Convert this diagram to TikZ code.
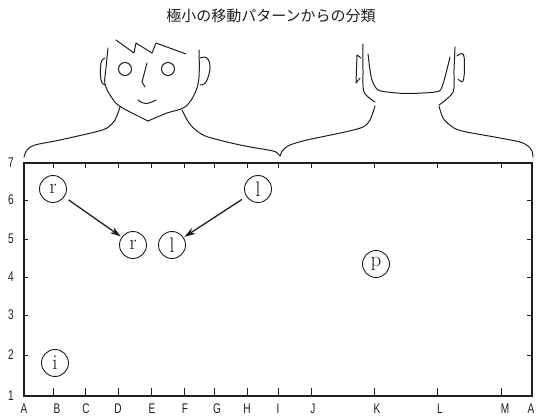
\documentclass[tikz,border=0pt]{standalone}
\usepackage{fontspec}
\newfontfamily\jpfont{Noto Sans CJK JP}
\newfontfamily\axisfont[FakeStretch=0.72]{Liberation Sans}
\usetikzlibrary{arrows.meta}
\definecolor{ink}{HTML}{1E1E1E}

\begin{document}
\begin{tikzpicture}[
  x=1pt, y=-1pt,
  draw=ink, text=ink,
  sketch/.style={line width=1pt, line join=round, line cap=round},
  frame/.style={line width=1.3pt},
  spot/.style={circle, draw=ink, line width=0.9pt, minimum size=27pt,
    inner sep=0pt, font=\fontsize{21}{21}\selectfont},
  ticklabel/.style={font=\axisfont\fontsize{14}{14}\selectfont, inner sep=0pt},
  arrow/.style={-{Stealth[length=11pt, width=7pt]}, line width=1.3pt,
    shorten <=5pt, shorten >=1pt}
]
  \useasboundingbox (0,0) rectangle (536,417);

  \node[font=\jpfont\fontsize{15}{15}\selectfont] (title) at (271,16)
    {極小の移動パターンからの分類};

  % front view
  \draw[sketch] plot[smooth, tension=0.6] coordinates
    {(108,48) (106,68) (105,84) (112,98) (121,107) (148,121)};
  \draw[sketch] plot[smooth, tension=0.6] coordinates
    {(148,121) (167,113) (185,107) (195,93) (199,77) (199,50)};
  \draw[sketch] (116,40) -- (134,53) -- (136,43) -- (152,53) -- (156,43) -- (186,54);
  \draw[sketch] plot[smooth, tension=0.7] coordinates
    {(105,58) (101,63) (101,80) (105,85)};
  \draw[sketch] plot[smooth, tension=0.7] coordinates
    {(200,58) (207,58) (210,68) (206,82) (200,85)};
  \draw[sketch] (125,69) circle (6.5);
  \draw[sketch] (168,69) circle (6.5);
  \draw[sketch] (147,63) -- (142,82) -- (145,87);
  \draw[sketch] plot[smooth, tension=0.8] coordinates {(138,100) (146,103.5) (156,100)};

  % back view
  \draw[sketch] plot[smooth, tension=0.5] coordinates {(363,44) (363,70) (364,92) (375,102)};
  \draw[sketch] plot[smooth, tension=0.5] coordinates {(455,47) (454,70) (453,92) (439,105)};
  \draw[sketch] plot[smooth, tension=0.5] coordinates
    {(368,54) (370,70) (372,80) (378,90) (392,92.5) (408,93.5) (435,92) (442,87) (450,57)};
  \draw[sketch] (361,58) -- (357,55) -- (356,83) -- (360,78);
  \draw[sketch] plot[smooth, tension=0.7] coordinates
    {(457,56) (463,54) (464.5,66) (463,81) (458,79)};

  % shoulders
  \draw[sketch] plot[smooth, tension=0.5] coordinates
    {(120,107) (115,120) (107,128) (95,132) (60,140) (35,145) (27,150) (24,157)};
  \draw[sketch] plot[smooth, tension=0.5] coordinates
    {(182,110) (189,123) (197,131) (208,137) (240,145) (268,150) (276,152) (280,156)};
  \draw[sketch] plot[smooth, tension=0.5] coordinates
    {(375,106) (370,120) (363,127) (345,132) (307,140) (290,145) (283,150) (280,156)};
  \draw[sketch] plot[smooth, tension=0.5] coordinates
    {(439,106) (443,118) (451,126) (462,131) (500,138) (520,142) (528,146) (532,151) (533,157)};

  % axes
  \draw[frame] (24,163) rectangle (532,396);
  \foreach \x in {53,85,118,151,184,214,247,278,311,374,437,501} {
    \draw[line width=0.9pt] (\x,396) -- ++(0,-8);
    \draw[line width=0.9pt] (\x,163) -- ++(0,5);
  }
  \foreach \x/\t in {24/A,57/B,86/C,118/D,152/E,185/F,217/G,247/H,278/I,
      313/J,377/K,440/L,505/M,531/A}
    \node[ticklabel] at (\x,409) {\t};
  \foreach \y/\t in {163/7,200/6,239/5,277/4,315/3,355/2,396/1} {
    \node[ticklabel] at (11,\y) {\t};
    \draw[line width=0.9pt] (24,\y) -- ++(4,0);
    \draw[line width=0.9pt] (532,\y) -- ++(-5,0);
  }

  % minimal movement patterns
  \node[spot] (r1) at (53,189) {r};
  \node[spot] (l1) at (258,189) {l};
  \node[spot] (r2) at (133,245) {r};
  \node[spot] (l2) at (172,245) {l};
  \node[spot] (p) at (376,264) {p};
  \node[spot] (i) at (55,363) {i};
  \draw[arrow] (r1) -- (r2);
  \draw[arrow] (l1) -- (l2);
\end{tikzpicture}
\end{document}
